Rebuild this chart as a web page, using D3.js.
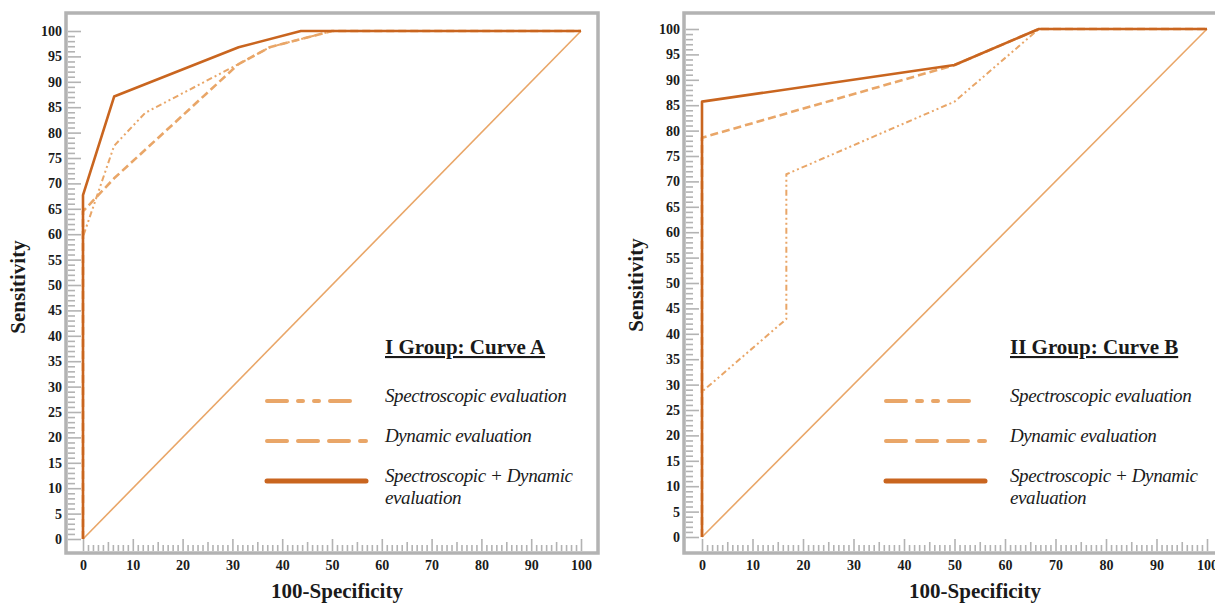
<!DOCTYPE html>
<html>
<head>
<meta charset="utf-8">
<script src="https://cdn.jsdelivr.net/npm/d3@7"></script>
<style>
  body { margin: 0; background: #fff; }
  svg { display: block; }
  text { font-family: "Liberation Serif", "DejaVu Serif", serif; fill: #1a1a1a; }
</style>
</head>
<body>
<svg id="chart" width="1215" height="603"></svg>
<script>
// tick labels
const xTickLabels = [0, 10, 20, 30, 40, 50, 60, 70, 80, 90, 100];
const yTickLabels = [0, 5, 10, 15, 20, 25, 30, 35, 40, 45, 50, 55, 60, 65, 70, 75, 80, 85, 90, 95, 100];

// legend
const legendNames = ["Spectroscopic evaluation", "Dynamic evaluation", "Spectroscopic + Dynamic|evaluation"];

// I group - curve A  (x = 100-specificity, y = sensitivity)
const specA_x = [0, 0, 6.25, 12.5, 31.25, 37.5, 50, 100];
const specA_y = [0, 59.5, 77.4, 83.9, 93.5, 96.8, 100, 100];
const dynA_x = [0, 0, 6.25, 31.25, 37.5, 50, 100];
const dynA_y = [0, 64.5, 71.0, 93.5, 96.8, 100, 100];
const combA_x = [0, 0, 6.25, 31.25, 43.75, 100];
const combA_y = [0, 67.7, 87.1, 96.8, 100, 100];

// II group - curve B
const specB_x = [0, 0, 16.7, 16.7, 50, 66.7, 100];
const specB_y = [0, 28.6, 42.9, 71.4, 85.7, 100, 100];
const dynB_x = [0, 0, 50, 66.7, 100];
const dynB_y = [0, 78.6, 92.9, 100, 100];
const combB_x = [0, 0, 50, 66.7, 100];
const combB_y = [0, 85.7, 92.9, 100, 100];

// reference diagonal
const diag_x = [0, 100];
const diag_y = [0, 100];

const dark = "#c9651f";
const light = "#e9a668";
const gridGray = "#b3b3b3";

const svg = d3.select("#chart");

function zip(xs, ys) { return xs.map((v, i) => [v, ys[i]]); }

function panel(cfg) {
  const g = svg.append("g");
  const x = d3.scaleLinear().domain([0, 100]).range([cfg.x0, cfg.x1]);
  const y = d3.scaleLinear().domain([0, 100]).range([cfg.y0, cfg.y1]);

  // frame
  g.append("rect")
    .attr("x", cfg.fl).attr("y", cfg.ft)
    .attr("width", cfg.fr - cfg.fl).attr("height", cfg.fb - cfg.ft)
    .attr("fill", "none").attr("stroke", gridGray).attr("stroke-width", 3.5);

  // y minor/major ticks (every 1 unit)
  const yt = g.append("g")
    .attr("transform", `translate(${cfg.fl + 2},0)`)
    .call(d3.axisRight(y).tickValues(d3.range(0, 101, 1)).tickFormat("").tickSizeOuter(0));
  yt.select(".domain").remove();
  yt.selectAll(".tick line")
    .attr("stroke", gridGray).attr("stroke-width", 1.6)
    .attr("x2", d => d % 5 === 0 ? 13 : 7);

  // y labels
  const yl = g.append("g")
    .attr("transform", `translate(${cfg.fl - 2},0)`)
    .call(d3.axisLeft(y).tickValues(yTickLabels).tickSize(0).tickPadding(2));
  yl.select(".domain").remove();
  yl.selectAll("text")
    .style("font-family", "Liberation Serif").style("font-weight", "bold")
    .style("font-size", "14px").attr("fill", "#1a1a1a");

  // x ticks
  const xt = g.append("g")
    .attr("transform", `translate(0,${cfg.fb - 2})`)
    .call(d3.axisTop(x).tickValues(d3.range(0, 101, 1)).tickFormat("").tickSizeOuter(0));
  xt.select(".domain").remove();
  xt.selectAll(".tick line")
    .attr("stroke", gridGray).attr("stroke-width", 1.6)
    .attr("y2", d => d % 10 === 0 ? -12 : (d % 5 === 0 ? -9 : -6));

  // x labels
  const xl = g.append("g")
    .attr("transform", `translate(0,${cfg.fb + 3})`)
    .call(d3.axisBottom(x).tickValues(xTickLabels).tickSize(0).tickPadding(4));
  xl.select(".domain").remove();
  xl.selectAll("text")
    .style("font-family", "Liberation Serif").style("font-weight", "bold")
    .style("font-size", "14px").attr("fill", "#1a1a1a");

  // axis titles
  g.append("text")
    .attr("x", cfg.titleX).attr("y", 598)
    .attr("text-anchor", "middle")
    .style("font-weight", "bold").style("font-size", "21px")
    .text("100-Specificity");
  g.append("text")
    .attr("transform", `translate(${cfg.fl - 41},${y(50) + 2}) rotate(-90)`)
    .attr("text-anchor", "middle")
    .style("font-weight", "bold").style("font-size", "21px")
    .text("Sensitivity");

  const line = d3.line().x(d => x(d[0])).y(d => y(d[1]));

  // diagonal
  g.append("path").datum(zip(diag_x, diag_y)).attr("d", line)
    .attr("fill", "none").attr("stroke", light).attr("stroke-width", 1.6);

  const series = [
    { data: zip(cfg.spec[0], cfg.spec[1]), color: light, w: 2, dash: "6,3,2,3,2,3" },
    { data: zip(cfg.dyn[0], cfg.dyn[1]), color: light, w: 2.6, dash: "8,4" },
    { data: zip(cfg.comb[0], cfg.comb[1]), color: dark, w: 2.6, dash: null }
  ];
  series.forEach(s => {
    g.append("path").datum(s.data).attr("d", line)
      .attr("fill", "none").attr("stroke", s.color)
      .attr("stroke-width", s.w)
      .attr("stroke-linejoin", "round")
      .attr("stroke-dasharray", s.dash);
  });

  // legend
  const lx = cfg.legX, tx = cfg.legTextX;
  g.append("text")
    .attr("x", tx).attr("y", 354)
    .style("font-weight", "bold").style("font-size", "21px")
    .style("text-decoration", "underline")
    .text(cfg.title);

  const legRows = [
    { y: 401, color: light, w: 4, dash: "20,11,5,11,5,11,20" },
    { y: 441, color: light, w: 4, dash: "20,11" },
    { y: 481, color: dark, w: 5, dash: null }
  ];
  legRows.forEach((r, i) => {
    g.append("line")
      .attr("x1", lx).attr("x2", lx + 99).attr("y1", r.y).attr("y2", r.y)
      .attr("stroke", r.color).attr("stroke-width", r.w)
      .attr("stroke-linecap", "round")
      .attr("stroke-dasharray", r.dash);
    const parts = legendNames[i].split("|");
    parts.forEach((p, j) => {
      g.append("text")
        .attr("x", tx).attr("y", r.y + 1 + j * 22)
        .style("font-style", "italic").style("font-size", "19px")
        .style("letter-spacing", "-0.4px")
        .text(p);
    });
  });
}

panel({
  fl: 66, fr: 598, ft: 13, fb: 553,
  x0: 83, x1: 581, y0: 539, y1: 31,
  spec: [specA_x, specA_y], dyn: [dynA_x, dynA_y], comb: [combA_x, combA_y],
  title: "I Group: Curve A", legX: 267, legTextX: 385, titleX: 337
});

panel({
  fl: 684, fr: 1230, ft: 13, fb: 553,
  x0: 702, x1: 1207, y0: 537, y1: 29,
  spec: [specB_x, specB_y], dyn: [dynB_x, dynB_y], comb: [combB_x, combB_y],
  title: "II Group: Curve B", legX: 886, legTextX: 1010, titleX: 975
});
</script>
</body>
</html>
